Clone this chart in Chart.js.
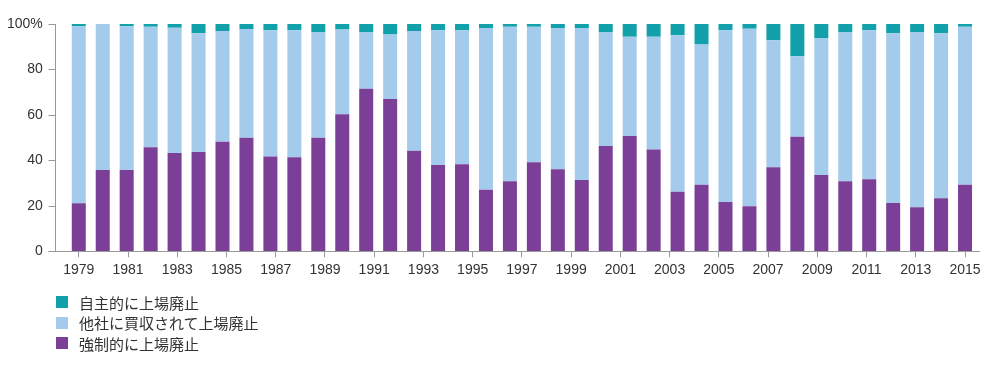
<!DOCTYPE html>
<html><head><meta charset="utf-8">
<script src="https://cdn.jsdelivr.net/npm/chart.js@4"></script>
<style>
html,body{margin:0;padding:0;background:#fff;}
#wrap{position:relative;width:1000px;height:367px;}
#legend{position:absolute;left:56px;top:292px;font-family:"Noto Sans CJK JP","Noto Sans CJK SC",sans-serif;font-size:15px;color:#333;}
.item{display:flex;align-items:center;height:20.5px;white-space:nowrap;}
.sw{width:12px;height:12px;margin-right:11px;flex:none;}
</style></head><body>
<div id="wrap"><canvas id="c" width="1000" height="367"></canvas><div id="legend"></div></div>
<script>
// 38 bars drawn under a year axis labelled 1979–2015
const categories = ['1978','1979','1980','1981','1982','1983','1984','1985','1986','1987','1988','1989','1990','1991','1992','1993','1994','1995','1996','1997','1998','1999','2000','2001','2002','2003','2004','2005','2006','2007','2008','2009','2010','2011','2012','2013','2014','2015'];
const forced = [21.1,35.7,35.7,45.7,43.2,43.7,48.2,49.9,41.7,41.3,49.9,60.3,71.5,67.0,44.2,37.9,38.3,27.1,30.8,39.2,36.1,31.3,46.3,50.7,44.8,26.2,29.2,21.7,19.8,36.9,50.4,33.5,30.8,31.7,21.2,19.3,23.3,29.2];
const acquired = [77.9,64.3,63.3,53.1,55.2,52.2,48.7,47.9,55.6,56.0,46.6,37.3,25.0,28.4,52.7,59.4,59.0,71.1,68.0,59.6,62.1,66.9,50.2,43.7,49.6,68.8,61.8,75.6,78.1,56.0,35.4,60.3,65.7,65.6,74.7,77.2,72.6,69.6];
const voluntary = [1.0,0,1.0,1.2,1.6,4.1,3.1,2.2,2.7,2.7,3.5,2.4,3.5,4.6,3.1,2.7,2.7,1.8,1.2,1.2,1.8,1.8,3.5,5.6,5.6,5.0,9.0,2.7,2.1,7.1,14.2,6.2,3.5,2.7,4.1,3.5,4.1,1.2];
const xTickYears = [1979,1981,1983,1985,1987,1989,1991,1993,1995,1997,1999,2001,2003,2005,2007,2009,2011,2013,2015];
const yTickValues = [0,20,40,60,80,100];
const yTickLabels = ['0','20','40','60','80','100%'];
const seriesNames = ['強制的に上場廃止','他社に買収されて上場廃止','自主的に上場廃止'];
const seriesColors = ['#7b3f98','#a4cbeb','#12a1aa'];

const nBars = categories.length;
const firstT = xTickYears[0], lastT = xTickYears[xTickYears.length-1];
// year ticks spread evenly from the first bar to the last bar
const tickIndex = y => (y - firstT) / (lastT - firstT) * (nBars - 1);

const tickFont = {family:'"Liberation Sans", Arial, sans-serif', size:14};
const axisColor = '#999';

const axisLines = {
  id:'axisLines',
  afterDatasetsDraw(chart){
    const {ctx, chartArea:a, scales} = chart;
    const xs = scales.x, ys = scales.y;
    const ax = Math.round(xs.getPixelForValue(-1)) + 0.5;
    const by = Math.round(a.bottom) + 0.5;
    ctx.save();
    ctx.strokeStyle = axisColor; ctx.lineWidth = 1;
    ctx.beginPath();
    ctx.moveTo(ax, Math.round(a.top)); ctx.lineTo(ax, by);
    ctx.moveTo(ax - 7, by); ctx.lineTo(a.right + 3, by);
    ys.ticks.forEach(t => {
      const y = Math.round(ys.getPixelForValue(t.value)) + 0.5;
      ctx.moveTo(ax - 7, y); ctx.lineTo(ax, y);
    });
    ctx.stroke();
    ctx.restore();
  }
};

const data = {
  labels: categories,
  datasets: [
    {label: seriesNames[0], data: forced, backgroundColor: seriesColors[0]},
    {label: seriesNames[1], data: acquired, backgroundColor: seriesColors[1]},
    {label: seriesNames[2], data: voluntary, backgroundColor: seriesColors[2]}
  ].map(d => Object.assign(d, {barPercentage:0.585, categoryPercentage:1, borderWidth:0}))
};

new Chart(document.getElementById('c'), {
  type:'bar',
  data,
  plugins:[axisLines],
  options:{
    responsive:false,
    animation:false,
    devicePixelRatio:1,
    layout:{padding:{left:7, right:23, top:24, bottom:83}},
    plugins:{legend:{display:false}, tooltip:{enabled:false}},
    scales:{
      x:{
        type:'category', stacked:true, offset:true,
        afterBuildTicks(axis){ axis.ticks = xTickYears.map(y => ({value:tickIndex(y)})); },
        afterFit(axis){ axis.paddingLeft = 0; axis.paddingRight = 0; },
        ticks:{callback:(v, i) => String(xTickYears[i]), font:tickFont, color:'#333', padding:5, maxRotation:0, autoSkip:false},
        grid:{display:true, offset:false, drawOnChartArea:false, drawTicks:true, tickLength:6, color:axisColor},
        border:{display:false}
      },
      y:{
        stacked:true, min:0, max:100,
        afterBuildTicks(axis){ axis.ticks = yTickValues.map(v => ({value:v})); },
        afterFit(axis){ axis.paddingTop = 0; axis.paddingBottom = 0; axis.width -= axis.options.ticks.padding; },
        ticks:{callback:(v, i) => yTickLabels[i], font:tickFont, color:'#333', padding:24},
        grid:{display:false, drawTicks:false},
        border:{display:false}
      }
    }
  }
});

const lg = document.getElementById('legend');
[2,1,0].forEach(i => {
  const row = document.createElement('div'); row.className = 'item';
  const sw = document.createElement('span'); sw.className = 'sw'; sw.style.background = seriesColors[i];
  const tx = document.createElement('span'); tx.textContent = seriesNames[i];
  row.appendChild(sw); row.appendChild(tx); lg.appendChild(row);
});
</script>
</body></html>
